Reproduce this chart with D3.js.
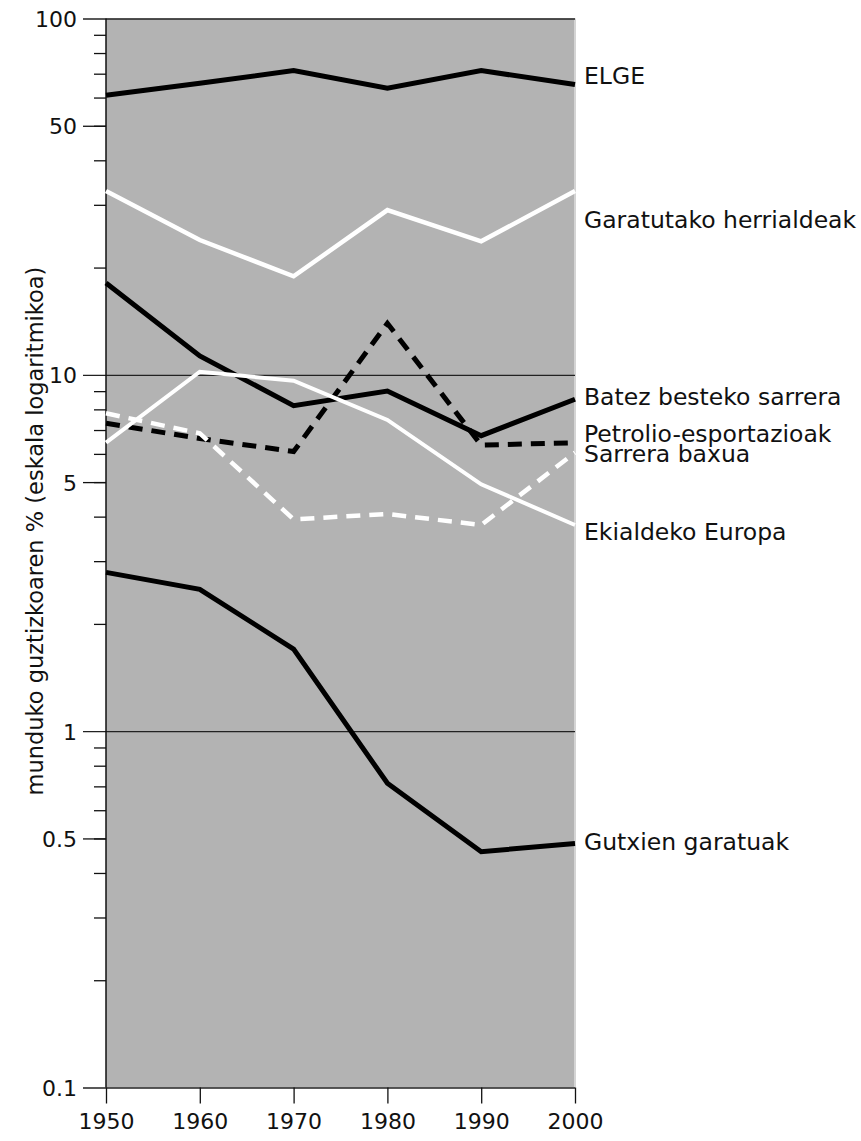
<!DOCTYPE html>
<html><head><meta charset="utf-8">
<script src="https://cdn.jsdelivr.net/npm/d3@7"></script>
<style>body{margin:0;background:#fff}svg{display:block}text{font-family:"DejaVu Sans",sans-serif;fill:#111}</style>
</head><body><svg id="c" width="861" height="1141"></svg>
<script>
const years = [1950, 1960, 1970, 1980, 1990, 2000];
const seriesNames = ["ELGE", "Garatutako herrialdeak", "Batez besteko sarrera", "Petrolio-esportazioak", "Sarrera baxua", "Ekialdeko Europa", "Gutxien garatuak"];
const elge = [60.9, 65.8, 71.4, 63.7, 71.4, 65.3];
const garatutako = [32.8, 23.9, 18.9, 29.0, 23.7, 32.8];
const batezBesteko = [18.1, 11.3, 8.19, 9.01, 6.75, 8.54];
const petrolio = [7.31, 6.63, 6.09, 13.95, 6.35, 6.45];
const sarreraBaxua = [7.8, 6.85, 3.93, 4.07, 3.79, 6.05];
const ekialdekoEuropa = [6.45, 10.2, 9.63, 7.47, 4.93, 3.79];
const gutxienGaratuak = [2.79, 2.50, 1.70, 0.714, 0.459, 0.484];
const yMajorTicks = [0.1, 1, 10, 100];
const yLabelTicks = [0.1, 0.5, 1, 5, 10, 50, 100];
const yAxisTitle = "munduko guztizkoaren % (eskala logaritmikoa)";

const values = [elge, garatutako, batezBesteko, petrolio, sarreraBaxua, ekialdekoEuropa, gutxienGaratuak];
// styles
const colors = ["#000", "#fff", "#000", "#000", "#fff", "#fff", "#000"];
const widths = [5, 4.5, 5, 5, 4.5, 4, 5];
const dashes = [null, null, null, "14,9", "14,9", null, null];
const labelBaselines = [84, 228, 405, 442, 462, 540, 850];

const svg = d3.select("#c");
const L = 106, R = 575, T = 18.5, B = 1087.5;
const x = d3.scaleLinear().domain([1950, 2000]).range([L, R]);
const y = d3.scaleLog().domain([0.1, 100]).range([B, T]);

svg.append("rect").attr("x", L).attr("y", T).attr("width", R - L).attr("height", B - T).attr("fill", "#b3b3b3");
svg.append("line").attr("x1", R).attr("x2", R).attr("y1", T).attr("y2", B).attr("stroke", "#d4d4d4").attr("stroke-width", 2);

// minor ticks
const minor = [];
[0.1, 1, 10].forEach(d => { for (let k = 2; k <= 9; k++) minor.push(+(d * k).toFixed(3)); });
const yAxisMinor = d3.axisLeft(y).tickValues(minor).tickSize(12).tickFormat("");
const gm = svg.append("g").attr("transform", `translate(${L},0)`).call(yAxisMinor);
gm.select(".domain").remove();
gm.selectAll("line").attr("stroke", "#111").attr("stroke-width", 1.3);

// major gridlines + ticks
const yAxisMajor = d3.axisLeft(y).tickValues(yMajorTicks).tickSize(R - L + 23).tickFormat("");
const gM = svg.append("g").attr("transform", `translate(${R},0)`).call(yAxisMajor);
gM.select(".domain").remove();
gM.selectAll("line").attr("stroke", "#222").attr("stroke-width", 1.3);

// longer ticks at labeled non-major values
const gl2 = svg.append("g").attr("transform", `translate(${L},0)`).call(d3.axisLeft(y).tickValues([0.5, 5, 50]).tickSize(23).tickFormat(""));
gl2.select(".domain").remove();
gl2.selectAll("line").attr("stroke", "#111").attr("stroke-width", 1.3);

// y tick labels (right-aligned at x=77)
const yAxisLabels = d3.axisLeft(y).tickValues(yLabelTicks).tickSize(29).tickPadding(0).tickFormat(d => String(d));
const gl = svg.append("g").attr("transform", `translate(${L},0)`).call(yAxisLabels);
gl.select(".domain").remove();
gl.selectAll("line").remove();
gl.selectAll("text").attr("font-size", 22).attr("font-family", "DejaVu Sans").attr("fill", "#111").attr("dy", "0.36em");

// left axis line
svg.append("line").attr("x1", L).attr("x2", L).attr("y1", T).attr("y2", B).attr("stroke", "#111").attr("stroke-width", 1.5);

// x axis
const xAxis = d3.axisBottom(x).tickValues(years).tickSize(16).tickPadding(10).tickFormat(d3.format("d"));
const gx = svg.append("g").attr("transform", `translate(0,${B})`).call(xAxis);
gx.select(".domain").remove();
gx.selectAll("line").attr("stroke", "#111").attr("stroke-width", 1.3);
gx.selectAll("text").attr("font-size", 22).attr("font-family", "DejaVu Sans").attr("fill", "#111");

// y title
svg.append("text").attr("transform", "translate(43,531) rotate(-90)").attr("text-anchor", "middle")
  .attr("font-size", 22.5).text(yAxisTitle);

// lines
const line = d3.line().x((d, i) => x(years[i])).y(d => y(d));
values.forEach((v, s) => {
  svg.append("path").datum(v).attr("d", line).attr("fill", "none")
    .attr("stroke", colors[s]).attr("stroke-width", widths[s]).attr("stroke-linejoin", "miter")
    .attr("stroke-dasharray", dashes[s]);
});

// labels
seriesNames.forEach((n, s) => {
  svg.append("text").attr("x", 584).attr("y", labelBaselines[s]).attr("font-size", 23.5).text(n);
});
</script></body></html>
